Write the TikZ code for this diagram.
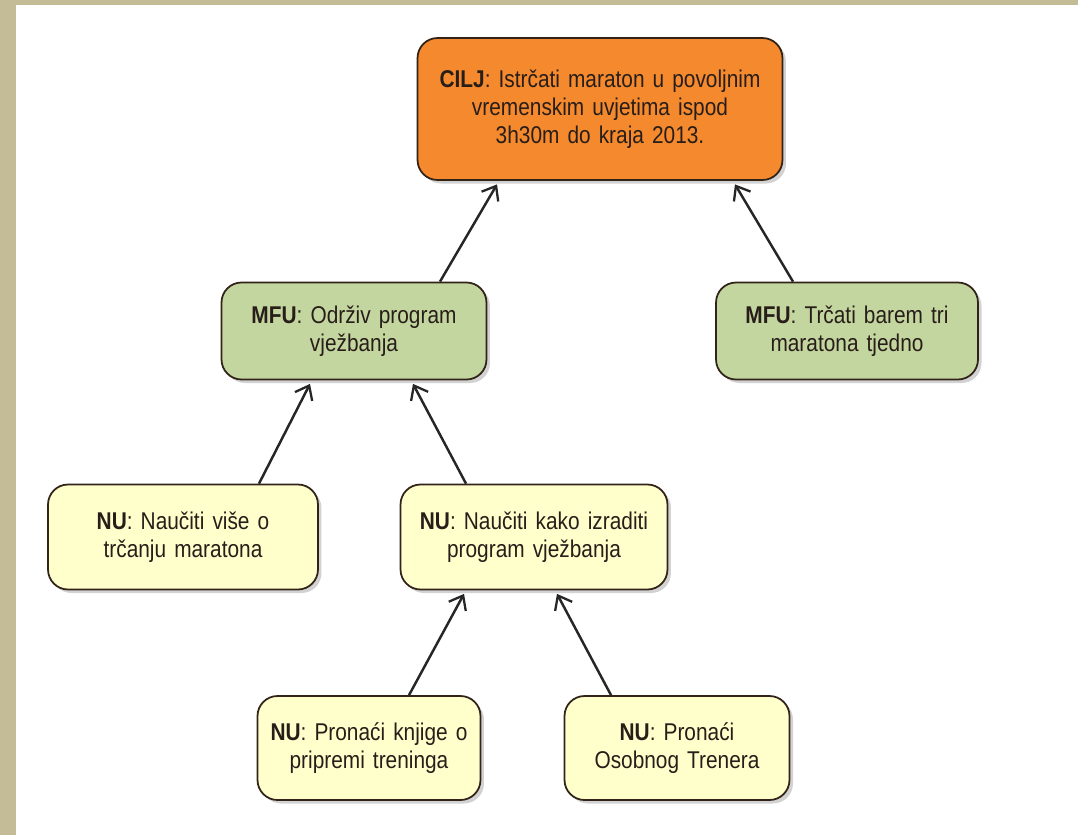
\documentclass[tikz,border=0pt]{standalone}
\usepackage{fontspec}
\setmainfont[FakeStretch=0.86]{Liberation Sans}
\usetikzlibrary{arrows.meta,shadows}
\definecolor{frametan}{RGB}{196,188,150}
\definecolor{goalorange}{RGB}{245,137,46}
\definecolor{mfugreen}{RGB}{196,214,160}
\definecolor{nuyellow}{RGB}{255,255,204}
\definecolor{boxline}{RGB}{50,35,25}
\definecolor{boxtext}{RGB}{40,30,25}
\begin{document}
\begin{tikzpicture}[x=0.02cm, y=-0.02cm, line width=1.2pt,
  box/.style={rectangle, rounded corners=0.4cm, draw=boxline, line width=1pt, align=center, text=boxtext, inner sep=2pt,
    font=\fontsize{13.8}{16}\selectfont, drop shadow={shadow xshift=2pt, shadow yshift=-2pt, opacity=0.35}},
  goal node/.style={box, fill=goalorange, minimum width=7.3cm, minimum height=2.84cm, text width=7cm},
  mfu node/.style={box, fill=mfugreen, minimum width=5.3cm, minimum height=1.94cm, text width=5cm},
  nu node/.style={box, fill=nuyellow, minimum height=2.1cm},
  arr/.style={-{Straight Barb[length=7pt, width=11pt, line width=1.3pt]}, line width=1.4pt, black!85}]%
% frame
\fill[white] (0,0) rectangle (1078,835);
\fill[frametan] (0,0) rectangle (16,835);
\fill[frametan] (0,0) rectangle (1078,5);
\useasboundingbox (0,0) rectangle (1078,835);
\begin{scope}
\node[goal node] (cilj) at (600,109) {\textbf{CILJ}: Istrčati maraton u povoljnim\\vremenskim uvjetima ispod\\3h30m do kraja 2013.};
\node[mfu node] (mfuA) at (354,331) {\textbf{MFU}: Održiv program\\vježbanja};
\node[mfu node, minimum width=5.24cm] (mfuB) at (847,331) {\textbf{MFU}: Trčati barem tri\\maratona tjedno};
\node[nu node, minimum width=5.4cm, text width=5.1cm] (nuA) at (183,537) {\textbf{NU}: Naučiti više o\\trčanju maratona};
\node[nu node, minimum width=5.34cm, text width=5.1cm] (nuB) at (534,537) {\textbf{NU}: Naučiti kako izraditi\\program vježbanja};
\node[nu node, minimum width=4.46cm, minimum height=2.08cm, text width=4.3cm] (nuC) at (369,748) {\textbf{NU}: Pronaći knjige o\\pripremi treninga};
\node[nu node, minimum width=4.5cm, minimum height=2.08cm, text width=4.3cm] (nuD) at (677,748) {\textbf{NU}: Pronaći\\Osobnog Trenera};
\end{scope}
\begin{scope}
\draw[arr] ([xshift=1.72cm]mfuA.north) -- ([xshift=-2.06cm, yshift=-2pt]cilj.south);
\draw[arr] ([xshift=-1.08cm]mfuB.north) -- ([xshift=2.70cm, yshift=-2pt]cilj.south);
\draw[arr] ([xshift=1.52cm]nuA.north) -- ([xshift=-0.88cm, yshift=-2pt]mfuA.south);
\draw[arr] ([xshift=-1.36cm]nuB.north) -- ([xshift=1.18cm, yshift=-2pt]mfuA.south);
\draw[arr] ([xshift=0.80cm]nuC.north) -- ([xshift=-1.40cm, yshift=-2pt]nuB.south);
\draw[arr] ([xshift=-1.32cm]nuD.north) -- ([xshift=0.46cm, yshift=-2pt]nuB.south);
\end{scope}
\end{tikzpicture}
\end{document}
